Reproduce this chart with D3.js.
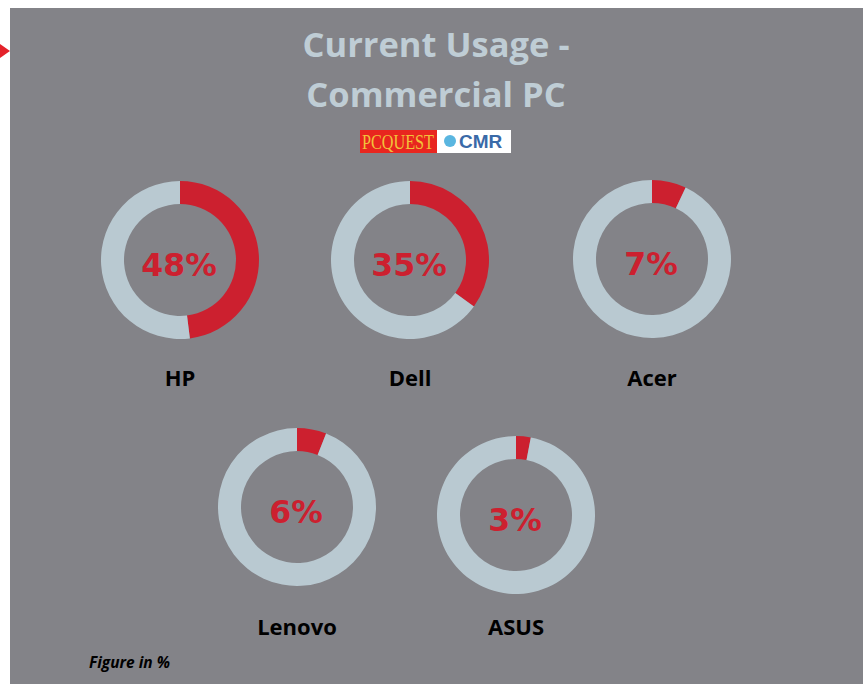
<!DOCTYPE html>
<html><head><meta charset="utf-8">
<script src="https://cdn.jsdelivr.net/npm/d3@7"></script>
<style>body{margin:0;background:#fff}svg{display:block}</style>
</head><body>
<svg id="c" width="868" height="684"></svg>
<script>
const brands = ["HP", "Dell", "Acer", "Lenovo", "ASUS"];
const shares = [48, 35, 7, 6, 3];
const titleLines = ["Current Usage -", "Commercial PC"];
const note = "Figure in %";

const svg = d3.select("#c");
const bg = "#838388", ring = "#b9c9d1", red = "#cc202f";

svg.append("rect").attr("x", 10).attr("y", 8).attr("width", 853).attr("height", 676).attr("fill", bg);
svg.append("path").attr("d", "M0,44 L10,51 L0,58 Z").attr("fill", "#e4222a");

svg.selectAll("text.title").data(titleLines).join("text")
  .attr("class", "title")
  .attr("x", 436).attr("y", (d, i) => 57 + i * 50)
  .attr("text-anchor", "middle")
  .attr("font-family", "'Open Sans', sans-serif").attr("font-weight", 700)
  .attr("font-size", 34.5).attr("fill", "#bfcdd5")
  .text(d => d);

// logos
const lg = svg.append("g");
lg.append("rect").attr("x", 360).attr("y", 130).attr("width", 77).attr("height", 23).attr("fill", "#e8261f");
lg.append("text").attr("x", 398).attr("y", 149).attr("text-anchor", "middle")
  .attr("font-family", "'Liberation Serif', serif").attr("font-size", 21).attr("fill", "#f2c23a")
  .attr("textLength", 72).attr("lengthAdjust", "spacingAndGlyphs").text("PCQUEST");
lg.append("rect").attr("x", 437).attr("y", 130).attr("width", 74).attr("height", 23).attr("fill", "#ffffff");
lg.append("circle").attr("cx", 450).attr("cy", 141).attr("r", 6).attr("fill", "#5ab6e0");
lg.append("text").attr("x", 459).attr("y", 148).attr("font-family", "'Liberation Sans', sans-serif")
  .attr("font-weight", 700).attr("font-size", 19).attr("fill", "#3a6aa8").text("CMR");

const centers = [[180, 260], [410, 260], [652, 259], [297, 507], [516, 515]];
const labelY = [386, 386, 386, 635, 635];
const arc = d3.arc().innerRadius(56).outerRadius(79);
const pie = d3.pie().sort(null).value(d => d);

brands.forEach((b, i) => {
  const g = svg.append("g").attr("transform", `translate(${centers[i][0]},${centers[i][1]})`);
  g.selectAll("path").data(pie([shares[i], 100 - shares[i]])).join("path")
    .attr("d", arc).attr("fill", (d, j) => j === 0 ? red : ring);
  g.append("text").attr("x", -1).attr("y", 16).attr("text-anchor", "middle")
    .attr("font-family", "'DejaVu Sans', sans-serif").attr("font-weight", 700)
    .attr("font-size", 31.5).attr("fill", red).text(shares[i] + "%");
  svg.append("text").attr("x", centers[i][0]).attr("y", labelY[i]).attr("text-anchor", "middle")
    .attr("font-family", "'Open Sans', sans-serif").attr("font-weight", 700)
    .attr("font-size", 22).attr("fill", "#000").text(b);
});

svg.append("text").attr("x", 89).attr("y", 668)
  .attr("font-family", "'Open Sans', sans-serif").attr("font-weight", 700).attr("font-style", "italic")
  .attr("font-size", 15.5).attr("fill", "#000").text(note);
</script>
</body></html>
